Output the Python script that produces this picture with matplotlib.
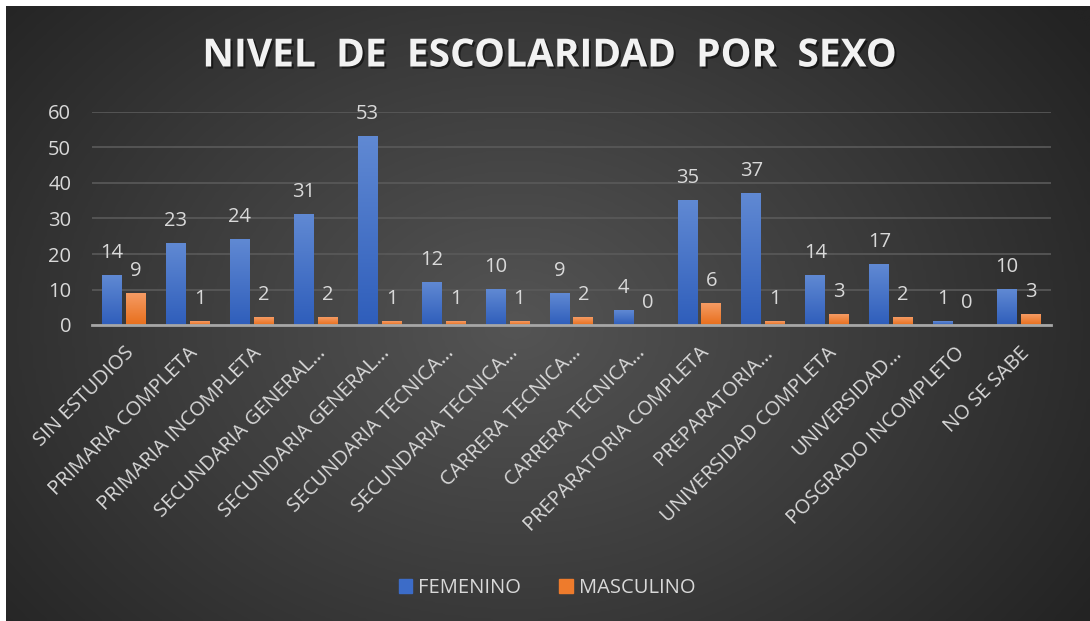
import numpy as np
import matplotlib
matplotlib.use('Agg')
import matplotlib.pyplot as plt
import matplotlib.patheffects as pe
from matplotlib.colors import LinearSegmentedColormap

categorias = ['SIN ESTUDIOS', 'PRIMARIA COMPLETA', 'PRIMARIA INCOMPLETA',
              'SECUNDARIA GENERAL…', 'SECUNDARIA GENERAL…', 'SECUNDARIA TECNICA…',
              'SECUNDARIA TECNICA…', 'CARRERA TECNICA…', 'CARRERA TECNICA…',
              'PREPARATORIA COMPLETA', 'PREPARATORIA…', 'UNIVERSIDAD COMPLETA',
              'UNIVERSIDAD…', 'POSGRADO INCOMPLETO', 'NO SE SABE']
femenino = [14, 23, 24, 31, 53, 12, 10, 9, 4, 35, 37, 14, 17, 1, 10]
masculino = [9, 1, 2, 2, 1, 1, 1, 2, 0, 6, 1, 3, 2, 0, 3]
series = ['FEMENINO', 'MASCULINO']

plt.rcParams['font.family'] = ['Open Sans', 'DejaVu Sans']
txt = '#d9d9d9'

fig = plt.figure(figsize=(10.9, 6.21), dpi=100)
fig.patch.set_facecolor('white')

# fondo con degradado radial
bg = fig.add_axes([0, 0, 1, 1])
bg.set_xlim(0, 1)
bg.set_ylim(0, 1)
bg.axis('off')
gx, gy = np.meshgrid(np.linspace(0, 1, 400), np.linspace(0, 1, 300))
r = np.sqrt(((gx - 0.47) * 1.0) ** 2 + ((gy - 0.48) * 0.75) ** 2)
r = np.clip(r / 0.64, 0, 1)
cm_bg = LinearSegmentedColormap.from_list('bg', ['#545454', '#3c3c3c', '#232323'])
bg.imshow(r, cmap=cm_bg, extent=[6 / 1090, 1, 0, 1 - 6 / 621], aspect='auto',
          origin='lower', interpolation='bicubic')

ax = fig.add_axes([92 / 1090, 1 - 325 / 621, (1051 - 92) / 1090, (325 - 112) / 621])
ax.patch.set_alpha(0)
x = np.arange(len(categorias))
w = 0.31
off = 0.186

cm_f = LinearSegmentedColormap.from_list('f', ['#2f5ebb', '#6089d3'])
cm_m = LinearSegmentedColormap.from_list('m', ['#e86f1c', '#f59b64'])
grad = np.linspace(0, 1, 100).reshape(-1, 1)

for vals, cmap, sgn in [(femenino, cm_f, -1), (masculino, cm_m, 1)]:
    for xi, v in zip(x, vals):
        cx = xi + sgn * off
        if v > 0:
            ax.imshow(grad, cmap=cmap, extent=[cx - w / 2, cx + w / 2, 0, v],
                      aspect='auto', origin='lower', zorder=3)
        ax.annotate(str(v), (cx, v), xytext=(0, 9), textcoords='offset points',
                    ha='center', va='bottom', color=txt, fontsize=14.5, zorder=4)

ax.set_xlim(-0.5, len(categorias) - 0.5)
ax.set_ylim(0, 60)
ax.set_yticks(range(0, 61, 10))
ax.yaxis.grid(True, color='#5a5a5a', linewidth=1.2, zorder=0)
ax.set_axisbelow(True)
for s in ['top', 'right', 'left']:
    ax.spines[s].set_visible(False)
ax.spines['bottom'].set_color('#a6a6a6')
ax.spines['bottom'].set_linewidth(2)
ax.spines['bottom'].set_zorder(5)
ax.tick_params(axis='both', length=0, colors=txt, labelsize=14.5)
ax.tick_params(axis='y', pad=15)
ax.set_xticks(x)
ax.set_xticklabels(categorias, rotation=45, ha='right', rotation_mode='anchor',
                   fontsize=14.5, color=txt)
ax.tick_params(axis='x', pad=13)

fig.text(0.504, 1 - 56 / 621, 'NIVEL  DE  ESCOLARIDAD  POR  SEXO', ha='center', va='center',
         color='#f2f2f2', fontsize=28, fontweight='bold',
         path_effects=[pe.withSimplePatchShadow(offset=(1.5, -1.5), shadow_rgbFace='black', alpha=0.5)])

h1 = plt.Rectangle((0, 0), 1, 1, color='#3c6cc8')
h2 = plt.Rectangle((0, 0), 1, 1, color='#ee7b2c')
fig.legend([h1, h2], series, loc='center', bbox_to_anchor=(0.502, 1 - 588 / 621), ncol=2,
           frameon=False, fontsize=14.5, labelcolor=txt, handlelength=0.65, handleheight=0.65,
           handletextpad=0.3, columnspacing=1.9)

fig.savefig('out.png', dpi=100, facecolor=fig.get_facecolor())
